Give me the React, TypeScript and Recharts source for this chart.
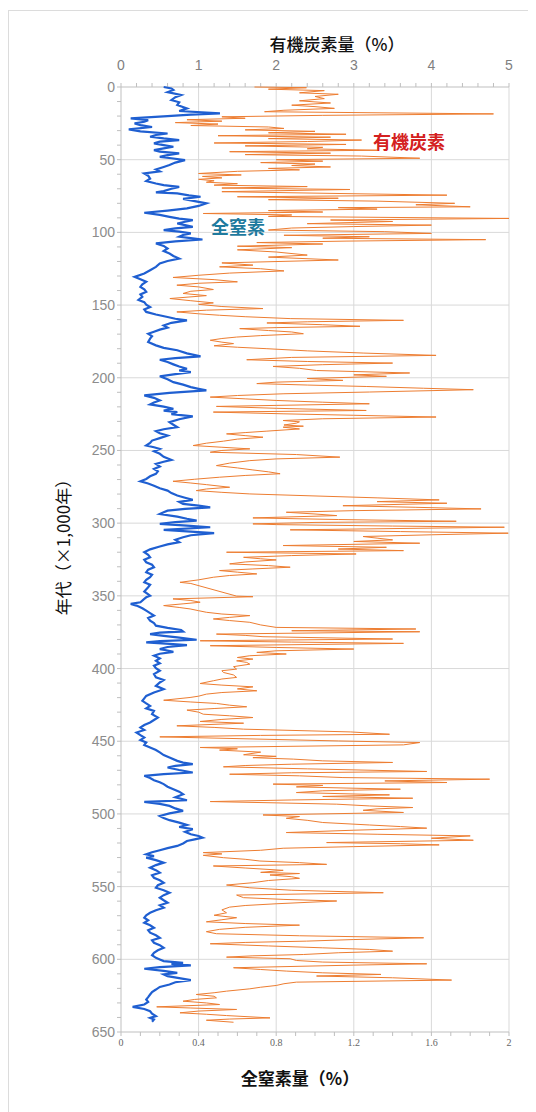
import { ScatterChart, Scatter, XAxis, YAxis, ReferenceLine } from 'recharts'

// [age (x1,000 yr), total organic carbon %]
const carbon: [number, number][] = [
  [0, 1.72], [0.5, 2.39], [1.5, 1.9], [2.5, 2.62], [4, 2.3], [5, 2.8], [6.5, 2.5], [8, 2.62], [9.5, 2.3], [11, 2.7],
  [12.5, 2.2], [13.5, 2.5], [14.7, 2.75], [16, 2.1], [17, 1.85], [18.5, 4.8], [19.5, 2.6], [20.5, 1.3], [21.5, 1.6], [22.5, 0.85],
  [23.5, 1.3], [24.5, 0.7], [25.5, 1.25], [26.5, 0.9], [27.5, 1.9], [28.5, 2.1], [29.5, 1.6], [30.5, 2.5], [31.5, 1.9], [32.5, 2.9],
  [33.5, 1.25], [34.5, 2.7], [35.5, 1.9], [36.5, 3.1], [37.5, 2.4], [38.5, 1.2], [39.5, 2.9], [40.5, 1.6], [41.5, 2.6], [42.5, 2.4],
  [43.5, 3.3], [44.5, 1.4], [45.5, 2.7], [46.5, 1.6], [47.5, 3.1], [49, 3.85], [50, 2.0], [51, 2.6], [52, 1.8], [53, 2.5],
  [54, 2.2], [55, 2.7], [56, 1.9], [57, 2.3], [58, 1.5], [59.5, 1.0], [60.5, 1.55], [61.5, 1.05], [62.5, 1.3], [63.5, 1.0],
  [64.5, 1.2], [65.5, 1.1], [66.5, 1.5], [67.5, 1.2], [68.5, 2.4], [69.5, 1.3], [70.5, 2.95],
  [72, 1.3], [73, 2.5], [74.4, 4.2], [75.5, 1.5], [76.5, 2.8], [77.5, 1.9], [78.5, 3.3], [80, 4.3], [81, 3.8], [82.4, 4.5],
  [83, 2.8], [84, 3.3], [85, 1.9], [86, 2.6], [87, 1.06], [88, 2.2], [89, 1.9], [90.4, 5.0], [91.5, 2.7], [92.5, 3.5],
  [94, 2.4], [95, 4.0], [96, 3.0], [97, 2.2], [98.4, 1.9], [99.5, 3.4], [100.7, 4.0], [102, 2.1], [103, 3.2], [104, 2.6],
  [105, 4.7], [106, 2.9], [107, 1.75], [108, 2.6], [109.5, 1.5], [110.5, 2.2], [112, 1.5], [113.5, 2.0], [115.6, 2.4], [117, 1.9],
  [119, 2.8], [121, 1.3], [122.5, 1.7], [123.7, 1.27], [125, 1.8], [126.5, 2.1], [128, 1.4], [129.5, 1.0], [131, 0.67], [132.5, 1.2],
  [134, 1.5], [135, 1.0], [136.3, 0.72], [137.5, 1.0], [139.3, 1.19], [140.5, 0.9], [142, 0.8], [143.5, 1.1], [145.5, 0.63], [147, 0.9],
  [148.5, 1.19], [149.5, 1.0], [151, 1.3], [152.4, 1.83], [153.5, 1.1], [154.7, 0.72], [156, 1.0], [157, 1.27], [158, 1.6], [159.3, 2.18],
  [160.5, 3.64], [161.5, 2.4], [162.3, 1.88], [163.5, 2.6], [164.6, 3.08], [165.5, 2.0], [166.2, 1.53], [167.5, 1.9], [168.5, 2.2], [169.7, 2.35],
  [171, 1.8], [172, 1.49], [173, 1.3], [174.2, 1.15], [175.5, 1.3], [176.5, 1.45], [178, 1.2], [179, 1.5], [180, 1.88], [181.5, 2.4],
  [183, 3.12], [184.6, 4.06], [186, 2.2], [187.6, 1.62], [188.8, 2.4], [189.9, 3.5], [191, 2.6], [192.2, 1.96], [193.5, 2.3], [195, 2.52],
  [196.7, 3.72], [198, 3.0], [199, 3.42], [200.5, 2.4], [201.8, 2.86], [203, 2.0], [204, 1.75], [205, 2.4], [206, 3.16], [207.2, 3.9],
  [208.2, 4.54], [209.8, 3.2], [211, 2.1], [212.2, 1.5], [213.3, 1.15], [214.5, 1.6], [215.6, 2.0], [216.8, 2.6], [217.9, 3.2], [219, 2.0],
  [219.7, 1.23], [221, 2.0], [222.5, 3.16], [223.6, 1.19], [224.8, 2.1], [225.8, 3.0], [227, 4.06], [228.2, 2.6], [229.4, 2.09], [230.3, 2.3],
  [231.2, 2.26], [232.5, 2.1], [233.3, 2.35], [234, 2.09], [235.2, 2.3], [236.7, 1.88], [237.7, 1.6], [238.6, 1.36], [239.8, 1.6], [240.9, 1.83],
  [242.2, 1.5], [243.6, 1.32], [245, 1.1], [246.6, 0.93], [247.8, 1.3], [248.9, 1.66], [250, 1.3], [251.2, 1.15], [252.8, 2.26], [254.6, 2.82],
  [255.8, 2.0], [257, 1.66], [258.7, 1.4], [260.4, 1.23], [262, 1.5], [263.4, 1.7], [264.7, 1.9], [266, 2.05], [267.2, 1.6], [268.4, 1.27],
  [269.8, 0.95], [271.2, 0.67], [272.4, 0.9], [273.5, 1.1], [275.3, 1.4], [276.5, 1.1], [277.6, 0.97], [278.8, 1.3], [279.9, 1.66], [281.3, 2.5],
  [282.6, 3.3], [284, 4.1], [285.2, 3.3], [286.3, 4.2], [288, 2.86], [289.1, 3.8], [290.2, 4.64], [291.4, 3.0], [292.5, 2.13], [293.7, 2.5],
  [294.8, 2.78], [296.4, 1.7], [297.5, 2.8], [298.7, 4.32], [299.5, 2.5], [300.5, 1.7], [301, 2.0], [302, 3.5], [302.8, 4.94], [304.6, 2.18],
  [305.8, 3.6], [306.9, 4.99], [308, 4.0], [309.2, 3.12], [310.3, 3.3], [311.5, 3.5], [312.6, 3.0], [313.8, 3.85], [315.4, 2.09], [316.6, 3.42],
  [317.8, 2.8], [318.9, 3.64], [320, 1.36], [321.2, 3.03], [322.3, 2.2], [323.5, 1.58], [324.5, 1.8], [325.3, 2.0], [326.7, 1.6], [328, 1.4],
  [329.2, 1.9], [330.3, 2.18], [331.5, 1.7], [332.6, 1.27], [333.7, 1.5], [334.9, 1.75], [336, 1.4], [337.2, 1.19], [339, 1.0], [340.7, 0.76],
  [341.5, 0.9], [350.2, 1.49], [350.6, 1.7], [352.1, 0.67], [353.2, 0.9], [354.4, 1.02], [355.5, 0.8], [356.7, 0.55], [358, 0.75], [359, 0.89],
  [360.2, 1.0], [361.3, 1.1], [362.5, 1.3], [363.6, 1.66], [364.8, 1.4], [365.9, 1.19], [367, 1.4], [368.2, 1.66], [370, 1.8], [371.7, 2.0],
  [372.8, 3.8], [374, 2.2], [374.7, 3.85], [376.3, 1.23], [377.2, 1.6], [378.1, 1.83], [379.7, 3.5], [380.9, 1.02], [381.8, 2.2], [382.7, 3.64],
  [384.3, 1.15], [385.5, 2.0], [386.6, 3.0], [387.8, 2.0], [388.9, 1.75], [390, 2.13], [391.2, 1.66], [392.4, 1.5], [393.5, 1.7], [394.7, 1.49],
  [395.8, 1.62], [397, 1.66], [398.7, 1.45], [400.4, 1.49], [401.5, 1.3], [402.7, 1.32], [404.4, 1.45], [406.1, 1.49], [407.2, 1.3], [408.4, 1.19],
  [410.3, 1.02], [411.4, 1.3], [412.6, 1.7], [414, 1.5], [415.3, 1.75], [416.5, 1.3], [417.6, 1.1], [419, 1.0], [419.9, 0.89], [421.8, 0.55],
  [423, 0.9], [424, 1.23], [425.2, 1.4], [426.3, 1.62], [427.5, 1.2], [428.6, 0.85], [430, 1.0], [431.4, 1.06], [432.5, 1.4], [433.7, 1.7],
  [435, 1.3], [436.4, 1.02], [437.6, 1.58], [439.4, 0.72], [440.5, 1.2], [441.7, 1.58], [443.6, 2.96], [445.2, 3.46], [446, 1.8], [447, 0.5],
  [448.6, 1.83], [449.8, 2.8], [450.9, 3.85], [452.5, 3.64], [454.3, 1.02], [455.2, 1.5], [456.1, 1.27], [457.5, 1.8], [459.3, 1.58], [460.4, 2.0],
  [461.3, 1.7], [462.3, 2.22], [463.5, 2.6], [464.6, 3.5], [465.8, 2.2], [466.7, 1.6], [467.6, 1.32], [469, 2.4], [470.8, 3.94], [471.7, 2.2],
  [472.7, 1.4], [473.8, 2.3], [475, 2.86], [476.1, 4.75], [477.3, 3.4], [478.4, 4.2], [479.5, 1.96], [480.4, 2.6], [481.4, 2.26], [482.2, 2.9],
  [483, 3.6], [484.1, 2.6], [485.3, 2.26], [486.9, 3.46], [488, 2.6], [489.2, 3.76], [490.4, 2.2], [491.5, 1.15], [492.4, 2.0], [493.3, 2.78],
  [494.5, 3.2], [495.6, 3.76], [496.5, 3.3], [497.5, 3.12], [499, 3.64], [500.7, 1.83], [501.8, 2.3], [503, 2.13], [504.4, 2.4], [505.9, 2.6],
  [507.6, 3.2], [508.7, 3.6], [509.8, 3.94], [511.2, 3.0], [512.8, 2.13], [514, 3.3], [515.1, 4.5], [516.7, 4.0], [518.1, 4.54], [519.7, 2.65],
  [520.5, 3.6], [521.3, 4.1], [522.5, 3.0], [523.6, 2.09], [525, 1.8], [526.6, 1.06], [527.5, 1.3], [528.5, 1.06], [530.1, 1.32], [531.2, 1.6],
  [532.4, 1.79], [533.5, 2.3], [534.7, 2.65], [535.8, 1.19], [537.2, 1.6], [538.8, 2.09], [540.2, 1.8], [541, 2.3], [542, 1.92], [543.2, 2.2],
  [544.3, 2.3], [545.8, 1.9], [547.3, 1.7], [548.9, 1.36], [550.8, 1.66], [552.5, 2.2], [554.2, 3.38], [555.8, 1.49], [557.6, 1.58], [558.8, 2.1],
  [559.9, 2.78], [561.8, 2.0], [563, 1.6], [564.1, 1.4], [566, 1.3], [568, 1.36], [569.7, 1.2], [571.4, 1.49], [572.8, 1.3], [574.2, 1.1],
  [575.4, 1.6], [576.5, 2.3], [578, 1.6], [579.4, 1.27], [581, 1.1], [582.4, 1.23], [583.8, 2.3], [585.2, 3.9], [586.4, 3.0], [587.5, 2.39],
  [588.4, 1.6], [589.3, 1.15], [590.8, 1.9], [592.1, 2.6], [593.2, 3.2], [594.4, 3.5], [595.5, 2.8], [596.7, 2.35], [597.6, 1.7], [598.5, 1.36],
  [599.6, 2.18], [600.8, 2.26], [601.9, 2.6], [603.1, 3.94], [604, 3.0], [605.8, 1.45], [607, 1.8], [608.1, 2.13], [609.3, 2.6], [610.4, 3.35],
  [611.5, 2.52], [612.7, 3.5], [614.3, 4.26], [615.7, 2.26], [616.8, 2.1], [618, 2.0], [619.2, 1.8], [620.3, 1.66], [621.9, 1.36], [623, 1.2],
  [624.2, 0.97], [625.4, 1.2], [626.5, 1.23], [627.6, 0.95], [628.8, 0.8], [630, 1.1], [631.1, 1.27], [632.7, 0.46], [633.5, 0.9], [634.5, 1.49],
  [635.6, 1.0], [636.8, 0.76], [637.8, 1.1], [638.7, 1.36], [640.3, 1.92], [641.1, 1.4], [641.9, 1.1], [643.3, 1.45],
]

// [age (x1,000 yr), total nitrogen %]
const nitrogen: [number, number][] = [
  [0, 0.22], [1, 0.26], [2, 0.27], [3.5, 0.24], [5.5, 0.31], [7, 0.28], [9, 0.26], [10.5, 0.3], [12.4, 0.29], [14.7, 0.34],
  [16.5, 0.3], [18.2, 0.51], [19, 0.36], [20, 0.24], [21.6, 0.05], [22.8, 0.14], [23.9, 0.12], [25, 0.07], [26.2, 0.1], [27.5, 0.16],
  [29.2, 0.04], [30.5, 0.1], [32, 0.24], [33, 0.18], [34.2, 0.15], [35.4, 0.22], [36.5, 0.3], [37.6, 0.2], [38.8, 0.17], [40, 0.22],
  [41.1, 0.27], [42.2, 0.22], [43.4, 0.17], [44.5, 0.2], [45.7, 0.3], [46.8, 0.24], [48, 0.2], [49, 0.26], [50.3, 0.33], [52, 0.28],
  [53.7, 0.25], [55, 0.22], [56.7, 0.18], [58, 0.2], [59.5, 0.12], [61, 0.14], [63, 0.15], [64.7, 0.13], [66.4, 0.18], [67.5, 0.22],
  [68.7, 0.3], [70, 0.26], [71.6, 0.22], [72.5, 0.18], [73.2, 0.29], [74.5, 0.35], [75.5, 0.41], [77, 0.32], [78.5, 0.38], [80, 0.44],
  [81.8, 0.4], [83.5, 0.34], [85, 0.24], [86.5, 0.12], [88, 0.2], [89.3, 0.25], [90.5, 0.3], [91.6, 0.37], [92.7, 0.33], [93.9, 0.29],
  [95, 0.33], [96.2, 0.37], [97.3, 0.28], [98.4, 0.22], [99.5, 0.3], [100.7, 0.36], [101.8, 0.32], [103, 0.3], [104, 0.36], [104.9, 0.42],
  [106.2, 0.28], [107.6, 0.18], [109.3, 0.22], [111.1, 0.24], [112.8, 0.22], [114.5, 0.25], [116.2, 0.27], [118, 0.3], [119.7, 0.24], [121.4, 0.2],
  [123.7, 0.18], [126, 0.15], [128.3, 0.12], [130.6, 0.07], [132.3, 0.1], [134, 0.13], [135.8, 0.11], [137.5, 0.1], [139.2, 0.12], [140.9, 0.13],
  [142.7, 0.1], [144.4, 0.11], [146.5, 0.09], [148, 0.12], [149.7, 0.13], [151.3, 0.15], [153, 0.12], [154.7, 0.13], [156.5, 0.18], [158.2, 0.24],
  [159.4, 0.28], [160.5, 0.34], [162.2, 0.26], [164, 0.22], [165.5, 0.24], [166.9, 0.2], [168.3, 0.17], [169.7, 0.14], [171.4, 0.16], [173.1, 0.15],
  [175.4, 0.14], [177.7, 0.18], [179.4, 0.22], [181.1, 0.29], [183.2, 0.34], [185.3, 0.41], [186.5, 0.28], [187.6, 0.2], [189.2, 0.24], [190.8, 0.27],
  [192.3, 0.3], [193.8, 0.34], [195, 0.3], [196.1, 0.36], [197.5, 0.28], [199, 0.2], [201, 0.24], [203, 0.27], [204.7, 0.32], [206.4, 0.36],
  [207.6, 0.4], [208.7, 0.44], [210.4, 0.25], [212.1, 0.12], [213.8, 0.17], [215.6, 0.2], [217, 0.17], [218.3, 0.15], [219.8, 0.22], [221.3, 0.27],
  [222.6, 0.22], [223.6, 0.29], [225, 0.26], [226.6, 0.37], [228.5, 0.3], [230.5, 0.25], [232.3, 0.27], [234, 0.29], [235.4, 0.22], [236.7, 0.18],
  [238.2, 0.2], [239.7, 0.24], [241.5, 0.2], [243.2, 0.16], [244.9, 0.15], [246.6, 0.13], [247.8, 0.17], [248.9, 0.2], [250.6, 0.17], [252.3, 0.2],
  [254.4, 0.22], [256.5, 0.26], [257.8, 0.22], [259.2, 0.18], [261, 0.2], [262.7, 0.17], [264.4, 0.19], [266.1, 0.18], [267.8, 0.15], [269.6, 0.13],
  [271.2, 0.1], [272.7, 0.14], [274.2, 0.17], [276, 0.2], [277.6, 0.24], [279.3, 0.26], [281, 0.29], [282.5, 0.33], [284, 0.37], [285.4, 0.3],
  [286.8, 0.32], [288, 0.4], [289.1, 0.46], [290.2, 0.33], [291.4, 0.24], [292.5, 0.22], [293.7, 0.2], [295.5, 0.29], [297, 0.34], [298.3, 0.39],
  [299.3, 0.28], [300.5, 0.2], [301.7, 0.34], [302.8, 0.46], [304.6, 0.22], [305.8, 0.36], [306.9, 0.48], [308.3, 0.36], [309.7, 0.32], [311.4, 0.28],
  [313.1, 0.3], [314.6, 0.24], [316.1, 0.2], [318, 0.15], [320, 0.12], [321.8, 0.14], [323.5, 0.15], [325.2, 0.12], [326.9, 0.13], [328.6, 0.16],
  [330.3, 0.17], [332, 0.14], [333.8, 0.13], [335.5, 0.16], [337.2, 0.15], [339, 0.13], [340.7, 0.12], [342.4, 0.15], [344.1, 0.14], [347, 0.12],
  [349.9, 0.15], [351, 0.13], [352.1, 0.12], [354.4, 0.1], [355.5, 0.05], [356.7, 0.08], [358.5, 0.11], [360.2, 0.13], [361.9, 0.15], [363.6, 0.17],
  [365.3, 0.14], [367.1, 0.15], [368.8, 0.17], [370.5, 0.18], [372, 0.24], [373.5, 0.31], [374.5, 0.32], [375.3, 0.2], [376.3, 0.15], [377.5, 0.22],
  [378.6, 0.29], [380.2, 0.39], [381.1, 0.2], [382, 0.13], [383, 0.25], [383.9, 0.34], [385.2, 0.24], [386.6, 0.2], [387.6, 0.24], [388.5, 0.27],
  [389.8, 0.2], [391.2, 0.17], [393, 0.2], [394.7, 0.18], [396.4, 0.2], [398.1, 0.17], [399.8, 0.18], [401.5, 0.2], [403.8, 0.17], [406.1, 0.18],
  [407.9, 0.22], [409.6, 0.2], [411.9, 0.18], [414.2, 0.22], [416.5, 0.17], [418.8, 0.13], [420.5, 0.12], [422.2, 0.11], [424, 0.13], [425.7, 0.15],
  [427.4, 0.13], [429.1, 0.17], [431.4, 0.16], [433.7, 0.19], [435.4, 0.17], [437.1, 0.15], [438.9, 0.12], [440.6, 0.1], [442.3, 0.12], [444, 0.08],
  [445.8, 0.1], [447.5, 0.12], [449.2, 0.1], [450.9, 0.13], [452.6, 0.12], [454.3, 0.15], [456, 0.18], [457.7, 0.2], [459.5, 0.22], [461.2, 0.25],
  [463.5, 0.29], [464.7, 0.32], [465.8, 0.37], [467, 0.28], [468.1, 0.24], [469.8, 0.3], [471.5, 0.37], [472.6, 0.22], [473.8, 0.12], [475.3, 0.15],
  [476.8, 0.17], [478.2, 0.2], [479.5, 0.22], [481.3, 0.24], [483, 0.27], [484.7, 0.3], [486.4, 0.32], [488.5, 0.28], [490.6, 0.34], [491.7, 0.12],
  [493.1, 0.2], [494.5, 0.25], [496.2, 0.28], [497.9, 0.32], [499.6, 0.25], [501.4, 0.2], [502.8, 0.22], [504.3, 0.25], [506, 0.3], [507.6, 0.34],
  [509, 0.3], [510.5, 0.37], [512.3, 0.33], [514, 0.36], [515.2, 0.4], [516.3, 0.42], [517.5, 0.38], [518.6, 0.34], [520.3, 0.32], [522, 0.29],
  [523.5, 0.24], [525, 0.2], [526.4, 0.16], [527.8, 0.13], [529, 0.17], [530.1, 0.13], [531.8, 0.18], [533.5, 0.22], [535.2, 0.18], [537, 0.15],
  [538.7, 0.18], [540.4, 0.2], [542.2, 0.16], [543.9, 0.17], [545.6, 0.2], [547.3, 0.22], [549, 0.19], [550.8, 0.18], [552.5, 0.22], [554.2, 0.25],
  [555.9, 0.22], [557.6, 0.2], [559.4, 0.22], [561.1, 0.24], [562.8, 0.2], [564.5, 0.22], [566.2, 0.18], [568, 0.15], [569.7, 0.13], [571.4, 0.12],
  [573.1, 0.14], [574.9, 0.12], [576.6, 0.15], [578.3, 0.17], [580, 0.14], [581.7, 0.15], [583.5, 0.18], [585.2, 0.2], [586.9, 0.16], [588.6, 0.17],
  [590.3, 0.2], [592.1, 0.22], [593.8, 0.19], [595.5, 0.17], [597.2, 0.16], [599, 0.18], [600.1, 0.2], [601.2, 0.22], [602.4, 0.32], [603.2, 0.26],
  [604.2, 0.36], [605.4, 0.2], [606.5, 0.12], [608, 0.22], [609.3, 0.29], [610.4, 0.22], [611.6, 0.24], [613, 0.3], [614.3, 0.36], [615.8, 0.28],
  [617.3, 0.25], [619, 0.2], [620.8, 0.18], [622.5, 0.16], [624.2, 0.15], [626, 0.14], [627.6, 0.13], [629.4, 0.14], [631.1, 0.12], [632.7, 0.06],
  [634.2, 0.12], [635.7, 0.15], [637.4, 0.16], [639.1, 0.18], [640.3, 0.15], [641.4, 0.17], [643, 0.16],
]

const ageTicks = [0, 10, 20, 30, 40, 50, 60, 70, 80, 90, 100, 110, 120, 130, 140, 150, 160, 170, 180, 190, 200, 210, 220, 230, 240, 250, 260, 270, 280, 290, 300, 310, 320, 330, 340, 350, 360, 370, 380, 390, 400, 410, 420, 430, 440, 450, 460, 470, 480, 490, 500, 510, 520, 530, 540, 550, 560, 570, 580, 590, 600, 610, 620, 630, 640, 650]
const ageGrid = [50, 100, 150, 200, 250, 300, 350, 400, 450, 500, 550, 600]
const carbonTicks = [0, 0.2, 0.4, 0.6, 0.8, 1, 1.2, 1.4, 1.6, 1.8, 2, 2.2, 2.4, 2.6, 2.8, 3, 3.2, 3.4, 3.6, 3.8, 4, 4.2, 4.4, 4.6, 4.8, 5]
const carbonGrid = [1, 2, 3, 4, 5]
const nitrogenTicks = [0, 0.1, 0.2, 0.3, 0.4, 0.5, 0.6, 0.7, 0.8, 0.9, 1, 1.1, 1.2, 1.3, 1.4, 1.5, 1.6, 1.7, 1.8, 1.9, 2]
const nitrogenLabels = [0, 0.4, 0.8, 1.2, 1.6, 2]

const carbonData = carbon.map(([age, v]) => ({ age, v }))
const nitrogenData = nitrogen.map(([age, v]) => ({ age, v }))

const near = (a: number, b: number) => Math.abs(a - b) < 1e-6
const AXIS = '#bfbfbf'
const GRID = '#d9d9d9'
const CJK = '"Noto Sans CJK JP", sans-serif'

function TopTick({ x, y, payload }: any) {
  const v = payload.value as number
  if (!near(v, Math.round(v))) return null
  return (
    <text x={x} y={y} dy={-11} textAnchor="middle" fill="#7f7f7f" fontSize={14} fontFamily="Liberation Sans, sans-serif">
      {Math.round(v)}
    </text>
  )
}

function BottomTick({ x, y, payload }: any) {
  const v = payload.value as number
  if (!nitrogenLabels.some(l => near(l, v))) return null
  return (
    <text x={x} y={y} dy={8} textAnchor="middle" fill="#666" fontSize={10} fontFamily="Liberation Serif, serif">
      {Number(v.toFixed(1))}
    </text>
  )
}

function AgeTick({ x, y, payload }: any) {
  const v = payload.value as number
  if (v % 50 !== 0) return null
  return (
    <text x={x} y={y} dy={5} textAnchor="end" fill="#8c8c8c" fontSize={14} fontFamily="Liberation Sans, sans-serif">
      {v}
    </text>
  )
}

const noDot = () => <g />

const abs = (left: number, top: number, extra: React.CSSProperties): React.CSSProperties => ({
  position: 'absolute', left, top, transform: 'translate(-50%, -50%)', whiteSpace: 'nowrap', fontFamily: CJK, ...extra,
})

export default function App() {
  return (
    <div style={{ position: 'relative', width: 528, height: 1104, overflow: 'hidden', background: '#fff' }}>
      <div style={{ position: 'absolute', left: 0, top: 2, width: 600, height: 1200, border: '1px solid #dcdcdc' }} />
      <ScatterChart width={528} height={1104} margin={{ top: 29, right: 27, bottom: 20, left: 53 }}>
        <XAxis
          xAxisId="c" orientation="top" type="number" dataKey="v" domain={[0, 5]} ticks={carbonTicks}
          height={50} tick={<TopTick />} tickSize={4} axisLine={{ stroke: AXIS }} tickLine={{ stroke: AXIS }}
          allowDataOverflow interval={0}
        />
        <XAxis
          xAxisId="n" orientation="bottom" type="number" dataKey="v" domain={[0, 2]} ticks={nitrogenTicks}
          height={60} tick={<BottomTick />} tickSize={4} axisLine={{ stroke: AXIS }} tickLine={{ stroke: AXIS }}
          allowDataOverflow interval={0}
        />
        <YAxis
          type="number" dataKey="age" domain={[0, 650]} ticks={ageTicks} reversed width={60}
          tick={<AgeTick />} tickSize={4} axisLine={{ stroke: AXIS }} tickLine={{ stroke: AXIS }} interval={0}
        />
        {ageGrid.map(a => (
          <ReferenceLine key={'h' + a} y={a} xAxisId="c" stroke={GRID} />
        ))}
        {carbonGrid.map(c => (
          <ReferenceLine key={'v' + c} x={c} xAxisId="c" stroke={GRID} />
        ))}
        <Scatter
          data={carbonData} xAxisId="c" line={{ stroke: '#ed7d31', strokeWidth: 1 }} shape={noDot}
          isAnimationActive={false}
        />
        <Scatter
          data={nitrogenData} xAxisId="n" line={{ stroke: '#1f5fd1', strokeWidth: 2.2 }} shape={noDot}
          isAnimationActive={false}
        />
      </ScatterChart>
      <div style={abs(329, 35, { fontSize: 17, fontWeight: 500, color: '#111' })}>有機炭素量（%）</div>
      <div style={abs(292, 1069, { fontSize: 17, fontWeight: 700, color: '#111' })}>全窒素量（%）</div>
      <div style={abs(54, 535, { fontSize: 17, fontWeight: 400, color: '#111', transform: 'translate(-50%, -50%) rotate(-90deg)' })}>
        年代（×1,000年）
      </div>
      <div style={abs(401, 133, { fontSize: 18, fontWeight: 700, color: '#d42020' })}>有機炭素</div>
      <div style={abs(230, 218, { fontSize: 18, fontWeight: 700, color: '#1e7a9e' })}>全窒素</div>
    </div>
  )
}
